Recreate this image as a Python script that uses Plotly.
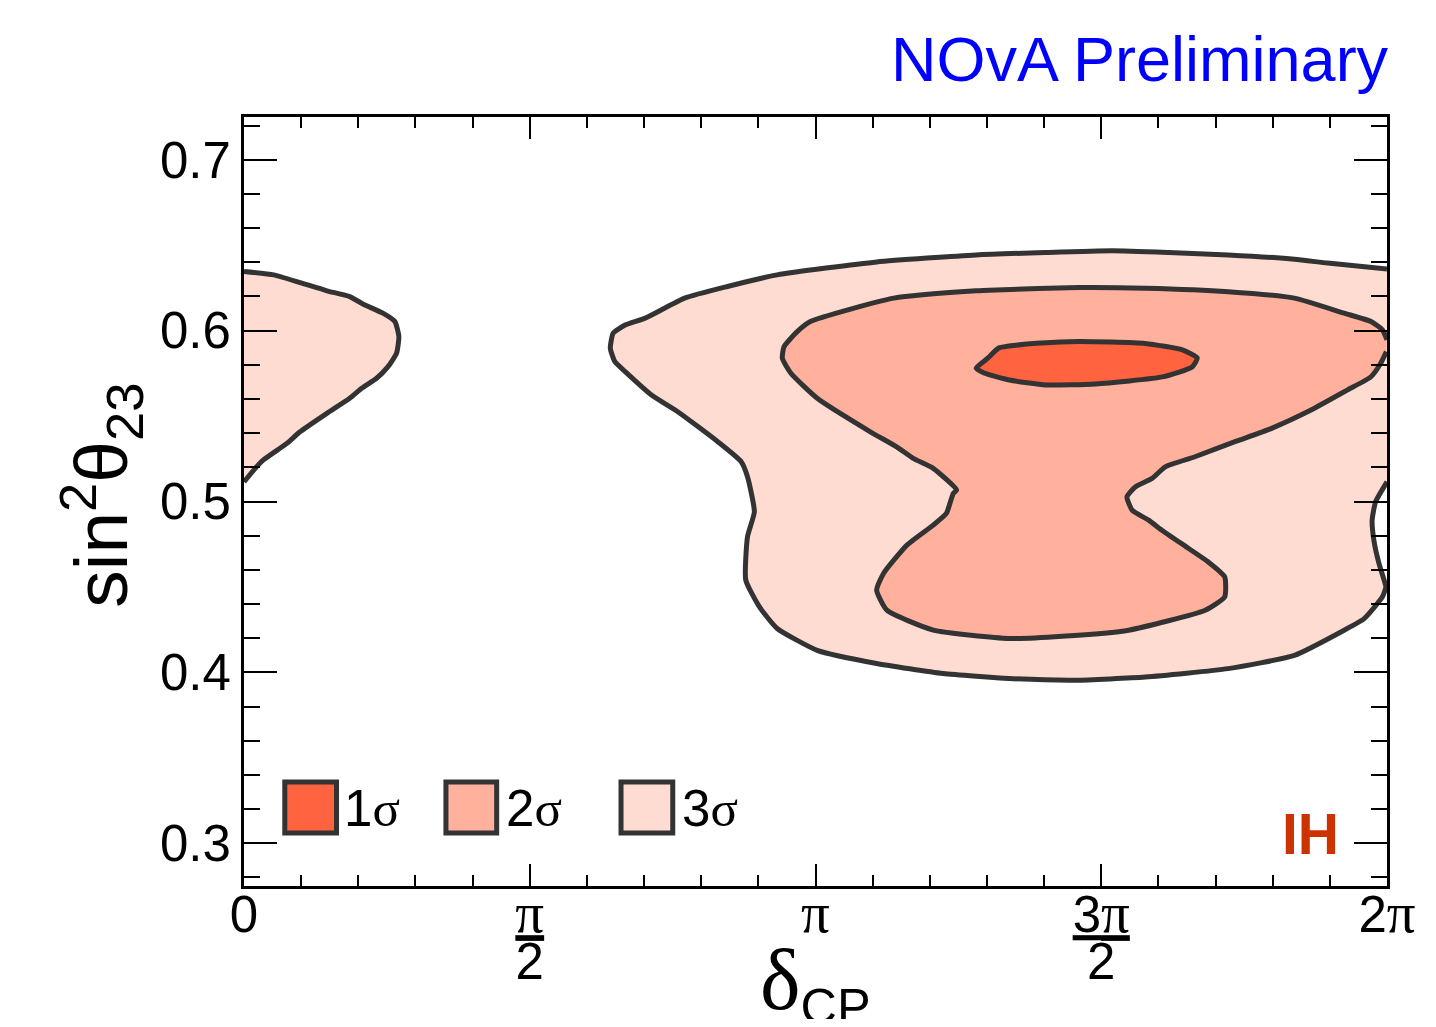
import plotly.graph_objects as go

# ---------------- data (delta_CP in units of pi, sin^2 theta_23) ----------------
# 3 sigma island touching delta_CP = 0
ISL3_X = [0.0, 0.052, 0.098, 0.145, 0.185, 0.208, 0.243, 0.264, 0.271, 0.267, 0.252,
          0.232, 0.206, 0.185, 0.145, 0.098, 0.075, 0.034, 0.017, 0.0]
ISL3_Y = [0.6346, 0.6326, 0.6281, 0.6233, 0.6199, 0.6156, 0.6102, 0.6053, 0.5965, 0.5868,
          0.5789, 0.5721, 0.5663, 0.5604, 0.5516, 0.5408, 0.5340, 0.5243, 0.5184, 0.5115]

# main 3 sigma region
S3_X = [2.0, 1.896, 1.838, 1.722, 1.618, 1.519, 1.403, 1.281, 1.107, 0.933, 0.846, 0.771,
        0.702, 0.667, 0.646, 0.641, 0.649, 0.667, 0.713, 0.759, 0.829, 0.870, 0.881, 0.893,
        0.881, 0.878, 0.902, 0.933, 1.003, 1.107, 1.223, 1.339, 1.455, 1.577, 1.722, 1.838,
        1.925, 1.960, 1.992, 1.998, 1.995, 1.986, 1.977, 1.974, 1.980, 2.0]
S3_Y = [0.6360, 0.6395, 0.6418, 0.6443, 0.6457, 0.6467, 0.6457, 0.6443, 0.6402, 0.6326,
        0.6258, 0.6190, 0.6073, 0.6033, 0.5985, 0.5897, 0.5818, 0.5760, 0.5623, 0.5525,
        0.5350, 0.5233, 0.5145, 0.4940, 0.4793, 0.4540, 0.4383, 0.4257, 0.4129, 0.4052,
        0.3993, 0.3964, 0.3954, 0.3973, 0.4022, 0.4100, 0.4247, 0.4315, 0.4442, 0.4500,
        0.4540, 0.4637, 0.4774, 0.4891, 0.4998, 0.5115]

# 2 sigma region
S2_X = [2.0, 1.992, 1.972, 1.925, 1.838, 1.722, 1.577, 1.461, 1.316, 1.281, 1.137, 0.991,
        0.968, 0.945, 0.942, 0.957, 1.003, 1.096, 1.142, 1.171, 1.206, 1.247, 1.241, 1.229,
        1.206, 1.160, 1.119, 1.107, 1.125, 1.206, 1.339, 1.432, 1.548, 1.682, 1.716, 1.716,
        1.687, 1.653, 1.606, 1.583, 1.554, 1.545, 1.560, 1.589, 1.612, 1.664, 1.734, 1.798,
        1.867, 1.931, 1.972, 1.989, 1.999]
S2_Y = [0.5946, 0.6004, 0.6053, 0.6102, 0.6190, 0.6228, 0.6248, 0.6252, 0.6238, 0.6233,
        0.6190, 0.6053, 0.5994, 0.5906, 0.5838, 0.5750, 0.5604, 0.5408, 0.5320, 0.5252,
        0.5194, 0.5067, 0.5047, 0.4930, 0.4862, 0.4745, 0.4579, 0.4481, 0.4364, 0.4247,
        0.4198, 0.4211, 0.4247, 0.4364, 0.4442, 0.4559, 0.4647, 0.4725, 0.4832, 0.4891,
        0.4950, 0.5028, 0.5086, 0.5135, 0.5203, 0.5262, 0.5350, 0.5428, 0.5535, 0.5653,
        0.5730, 0.5809, 0.5877]

# 1 sigma region (closed contour)
S1_X = [1.281, 1.302, 1.321, 1.396, 1.461, 1.577, 1.642, 1.668, 1.659, 1.607, 1.490,
        1.403, 1.339, 1.295, 1.281]
S1_Y = [0.5781, 0.5840, 0.5899, 0.5928, 0.5937, 0.5925, 0.5887, 0.5840, 0.5787, 0.5729,
        0.5688, 0.5682, 0.5711, 0.5752, 0.5781]

X_TICKVALS = [0, 0.5, 1, 1.5, 2]
Y_TICKVALS = [0.3, 0.4, 0.5, 0.6, 0.7]
Y_TICKTEXT = ["0.3", "0.4", "0.5", "0.6", "0.7"]
LEGEND_LABELS = ["1", "2", "3"]

# ---------------- styling ----------------
SANS = "Liberation Sans, Arial, Helvetica, sans-serif"
SERIF = "Liberation Serif, Times New Roman, serif"
LINE = "#333333"
C1, C2, C3 = "#ff6340", "#ffb19d", "#ffdcd2"


def g(s):
    return f"<span style='font-family:{SERIF}'>{s}</span>"


def gp(s):
    return f"<span style='font-family:{SERIF};font-size:57px'>{s}</span>"


def big(s):
    return f"<span style='font-size:51px'>{s}</span>"


X_TICKTEXT = [big("0"),
              big(f"<u>{gp('π')}</u>") + "<br>" + big("2"),
              big(gp("π")),
              big(f"<u>3{gp('π')}</u>") + "<br>" + big("2"),
              big("2" + gp("π"))]

fig = go.Figure()


def region(x, y, color):
    fig.add_trace(go.Scatter(x=x, y=y, mode="lines", fill="toself", fillcolor=color,
                             line=dict(color=LINE, width=5, shape="spline", smoothing=0.5),
                             hoverinfo="skip", showlegend=False))


region(S3_X, S3_Y, C3)
region(ISL3_X, ISL3_Y, C3)
region(S2_X, S2_Y, C2)
region(S1_X, S1_Y, C1)

# plot area in window pixels: x 244..1393, y 117..886
PX0, PX1, PY0, PY1 = 244, 1393, 117, 886


def px(xw):
    return (xw - PX0) / (PX1 - PX0)


def py(yw):
    return (PY1 - yw) / (PY1 - PY0)


shapes = []
annotations = []
legend_boxes = [(285, 337), (447, 498), (623, 675)]
legend_text_x = [343, 505, 682]
for (bx0, bx1), tx, lab, col in zip(legend_boxes, legend_text_x, LEGEND_LABELS, [C1, C2, C3]):
    shapes.append(dict(type="rect", xref="paper", yref="paper",
                       x0=px(bx0), x1=px(bx1), y0=py(833), y1=py(782),
                       fillcolor=col, line=dict(color=LINE, width=5), layer="above"))
    annotations.append(dict(xref="paper", yref="paper", x=px(tx), y=py(808),
                            xanchor="left", yanchor="middle", showarrow=False,
                            text=lab + g("σ"), font=dict(family=SANS, size=51, color="black")))

annotations += [
    dict(xref="paper", yref="paper", x=px(1397), y=py(96), xanchor="right", yanchor="bottom",
         showarrow=False, text="NOvA Preliminary",
         font=dict(family=SANS, size=63, color="#0000ff")),
    dict(xref="paper", yref="paper", x=px(1347), y=py(868), xanchor="right", yanchor="bottom",
         showarrow=False, text="<b>IH</b>",
         font=dict(family=SANS, size=57, color="#cc3300")),
    dict(xref="paper", yref="paper", x=px(100), y=py(495), xanchor="center", yanchor="middle",
         textangle=-90, showarrow=False, text="sin<sup>2</sup>θ<sub>23</sub>",
         font=dict(family=SANS, size=75, color="black")),
    dict(xref="paper", yref="paper", x=px(818), y=py(930), xanchor="center", yanchor="top",
         showarrow=False, text=f"<span style='font-family:{SERIF};font-size:86px'>δ</span><sub>CP</sub>",
         font=dict(family=SANS, size=72, color="black")),
]

fig.update_layout(
    width=1420, height=1011, autosize=False,
    margin=dict(l=PX0 - 8, r=1436 - 8 - PX1, t=PY0 - 8, b=1027 - 8 - PY1, pad=0),
    paper_bgcolor="white", plot_bgcolor="white",
    shapes=shapes, annotations=annotations, showlegend=False,
    xaxis=dict(range=[0, 2], tickmode="array", tickvals=X_TICKVALS, ticktext=X_TICKTEXT,
               ticks="inside", ticklen=22, tickwidth=2, tickcolor="black",
               showline=True, linewidth=3, linecolor="black", mirror="allticks",
               showgrid=False, zeroline=False,
               tickfont=dict(family=SANS, size=36, color="black"),
               minor=dict(dtick=0.1, ticks="inside", ticklen=11, tickwidth=2, tickcolor="black",
                          showgrid=False)),
    yaxis=dict(range=[0.275, 0.725], tickmode="array", tickvals=Y_TICKVALS, ticktext=Y_TICKTEXT,
               ticks="inside", ticklen=33, tickwidth=2, tickcolor="black",
               showline=True, linewidth=3, linecolor="black", mirror="allticks",
               showgrid=False, zeroline=False, ticklabelstandoff=0,
               tickfont=dict(family=SANS, size=51, color="black"),
               minor=dict(dtick=0.02, tick0=0.3, ticks="inside", ticklen=16, tickwidth=2,
                          tickcolor="black", showgrid=False)),
)

fig.write_html("out.html")
